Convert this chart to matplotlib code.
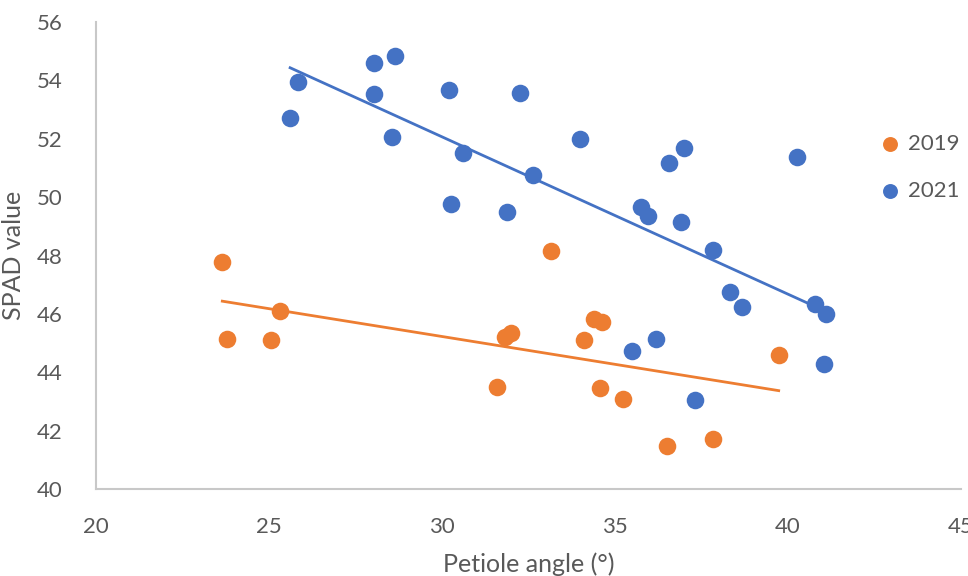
import matplotlib.pyplot as plt
import numpy as np

plt.rcParams['font.family'] = ['Lato', 'DejaVu Sans']

# petiole angle (deg) vs SPAD readings per season
angle_2019 = [23.65, 23.79, 25.06, 25.32, 31.60, 31.81, 31.98, 34.09, 34.38, 34.61,
              34.58, 35.22, 33.16, 36.49, 37.82, 39.73]
spad_2019 = [47.78, 45.14, 45.10, 46.10, 43.49, 45.21, 45.34, 45.10, 45.82, 45.72,
             43.46, 43.08, 48.15, 41.47, 41.71, 44.59]

angle_2021 = [25.61, 25.85, 28.04, 28.65, 28.04, 28.56, 30.21, 30.62, 30.27, 32.24,
              32.62, 31.89, 33.98, 35.74, 35.94, 36.55, 36.99, 36.90, 37.82, 38.32,
              38.66, 40.25, 40.78, 41.09, 41.04, 35.48, 36.18, 37.30]
spad_2021 = [52.71, 53.94, 54.59, 54.83, 53.53, 52.06, 53.67, 51.51, 49.76, 53.57,
             50.76, 49.49, 51.99, 49.66, 49.35, 51.17, 51.68, 49.15, 48.19, 46.75,
             46.24, 51.37, 46.34, 46.00, 44.28, 44.73, 45.14, 43.05]

series = [('2019', angle_2019, spad_2019, '#ED7D31'),
          ('2021', angle_2021, spad_2021, '#4472C4')]

fig = plt.figure(figsize=(9.68, 5.76), dpi=100)
ax = fig.add_axes([0.0992, 0.151, 0.8936, 0.8108])

for label, xs, ys, color in series:
    xs = np.array(xs)
    ys = np.array(ys)
    ax.scatter(xs, ys, s=160, color=color, label=label, zorder=3, linewidths=0)
    # linear trendline over the data range
    k, b = np.polyfit(xs, ys, 1)
    xl = np.array([xs.min(), xs.max()])
    ax.plot(xl, k * xl + b, color=color, lw=2, zorder=2)

ax.set_xlim(20, 45)
ax.set_ylim(40, 56)
ax.set_xticks(range(20, 46, 5))
ax.set_yticks(range(40, 57, 2))

for side in ('top', 'right'):
    ax.spines[side].set_visible(False)
for side in ('left', 'bottom'):
    ax.spines[side].set_color('#C8C8C8')
    ax.spines[side].set_linewidth(1.5)

ax.tick_params(length=0, labelsize=16, colors='#595959')
ax.tick_params(axis='x', pad=20)
ax.tick_params(axis='y', pad=24)

ax.set_xlabel('Petiole angle (°)', fontsize=18, color='#595959')
ax.set_ylabel('SPAD value', fontsize=18, color='#595959')
ax.xaxis.set_label_coords(0.5, -0.135)
ax.yaxis.set_label_coords(-0.082, 0.5)

ax.legend(loc='upper left', bbox_to_anchor=(879 / 968, 1 - 134 / 576),
          bbox_transform=fig.transFigure, frameon=False,
          fontsize=16, labelcolor='#595959', handlelength=1.0, handletextpad=0.3,
          labelspacing=1.2, markerscale=0.85, borderaxespad=0, borderpad=0)

fig.savefig('out.png', dpi=100)
